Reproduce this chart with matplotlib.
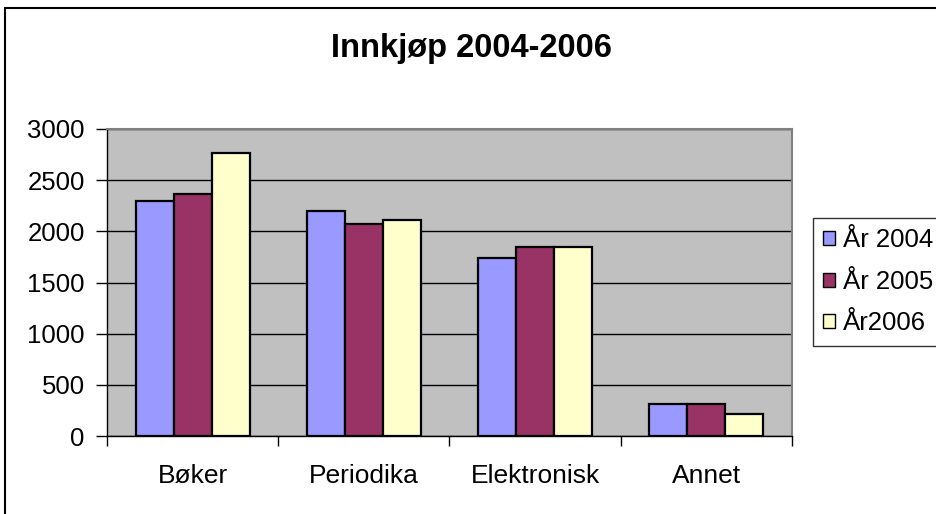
import numpy as np
import matplotlib.pyplot as plt
from matplotlib.patches import Rectangle

plt.rcParams['font.family'] = ['Liberation Sans', 'DejaVu Sans']

# data
categories = ['Bøker', 'Periodika', 'Elektronisk', 'Annet']
series_names = ['År 2004', 'År 2005', 'År2006']
v2004 = [2300, 2200, 1740, 310]
v2005 = [2360, 2070, 1850, 310]
v2006 = [2770, 2110, 1850, 215]
yticks = [0, 500, 1000, 1500, 2000, 2500, 3000]

colors = ['#9999FF', '#993366', '#FFFFCC']

W, H = 937, 514
fig = plt.figure(figsize=(W / 100, H / 100), dpi=100)
ax = fig.add_axes([107 / W, 1 - 436 / H, (792 - 107) / W, (436 - 129) / H])
ax.set_facecolor('#C0C0C0')

x = np.arange(len(categories))
bw = 1 / 4.5
for i, (vals, c, name) in enumerate(zip([v2004, v2005, v2006], colors, series_names)):
    ax.bar(x + (i - 1) * bw, vals, width=bw, color=c, edgecolor='black',
           linewidth=1.6, label=name, zorder=3)

ax.set_xlim(-0.5, len(categories) - 0.5)
ax.set_ylim(0, 3000)
ax.set_yticks(yticks)
ax.yaxis.grid(True, color='black', linewidth=1, zorder=1)
ax.set_axisbelow(True)

ax.set_xticks(x)
ax.set_xticklabels(categories)
ax.set_xticks(np.arange(len(categories) + 1) - 0.5, minor=True)
ax.tick_params(axis='x', which='major', length=0, pad=20, labelsize=19)
ax.tick_params(axis='x', which='minor', length=7, width=1, color='black', direction='out')
ax.tick_params(axis='y', length=8, width=1, pad=8, labelsize=18.5)

for s in ['left', 'bottom']:
    ax.spines[s].set_color('black')
    ax.spines[s].set_linewidth(1)
for s in ['right', 'top']:
    ax.spines[s].set_color('#808080')
    ax.spines[s].set_linewidth(1.5)
    ax.spines[s].set_zorder(2.5)

fig.text(471 / W, 1 - 48 / H, 'Innkjøp 2004-2006', ha='center', va='center',
         fontsize=23.5, fontweight='bold')

leg = ax.legend(loc='upper left', bbox_to_anchor=(813 / W, 1 - 218 / H),
                bbox_transform=fig.transFigure, fontsize=18.5, frameon=True,
                fancybox=False, edgecolor='black', handlelength=0.45,
                handleheight=0.45, handletextpad=0.3, labelspacing=0.68,
                borderpad=0.4, borderaxespad=0)
leg.get_frame().set_linewidth(1)
for h in leg.legend_handles:
    h.set_linewidth(1)

# outer chart border (cropped on the right and bottom)
fig.patches.append(Rectangle((5 / W, -0.1), 1.1, 1.1 - 8 / H,
                             transform=fig.transFigure, fill=False,
                             edgecolor='black', linewidth=1.5))

fig.savefig('out.png', dpi=100)
